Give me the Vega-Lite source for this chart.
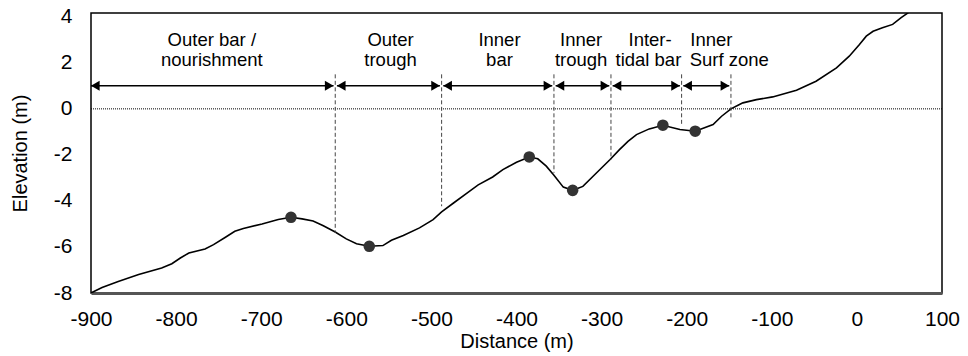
{
  "$schema": "https://vega.github.io/schema/vega-lite/v6.json",
  "autosize": "none",
  "width": 851,
  "height": 280,
  "padding": {"left": 91, "top": 13, "right": 26, "bottom": 63},
  "background": "white",
  "config": {
    "font": "Liberation Sans",
    "view": {"stroke": "black", "strokeWidth": 1.5},
    "axis": {"labelColor": "black", "titleColor": "black", "titleFontWeight": "normal", "grid": false, "ticks": false}
  },
  "datasets": {
    "profile": [
      {"x": -900, "y": -8.0}, {"x": -887, "y": -7.76}, {"x": -868, "y": -7.5}, {"x": -844, "y": -7.2},
      {"x": -817, "y": -6.91}, {"x": -805, "y": -6.73}, {"x": -795, "y": -6.48}, {"x": -785, "y": -6.26},
      {"x": -766, "y": -6.09}, {"x": -756, "y": -5.9}, {"x": -742, "y": -5.58}, {"x": -731, "y": -5.32},
      {"x": -721, "y": -5.2}, {"x": -699, "y": -5.0}, {"x": -680, "y": -4.81}, {"x": -665, "y": -4.71},
      {"x": -652, "y": -4.78}, {"x": -639, "y": -4.87}, {"x": -627, "y": -5.08}, {"x": -613, "y": -5.35},
      {"x": -600, "y": -5.65}, {"x": -588, "y": -5.86}, {"x": -573, "y": -5.97}, {"x": -557, "y": -5.94},
      {"x": -547, "y": -5.71}, {"x": -533, "y": -5.5}, {"x": -514, "y": -5.17}, {"x": -498, "y": -4.81},
      {"x": -488, "y": -4.48}, {"x": -474, "y": -4.09}, {"x": -459, "y": -3.68}, {"x": -445, "y": -3.3},
      {"x": -428, "y": -2.96}, {"x": -416, "y": -2.64}, {"x": -400, "y": -2.32}, {"x": -385, "y": -2.09},
      {"x": -375, "y": -2.17}, {"x": -365, "y": -2.49}, {"x": -356, "y": -2.88}, {"x": -345, "y": -3.4},
      {"x": -334, "y": -3.54}, {"x": -322, "y": -3.37}, {"x": -310, "y": -2.93}, {"x": -290, "y": -2.2},
      {"x": -279, "y": -1.77}, {"x": -269, "y": -1.41}, {"x": -259, "y": -1.12}, {"x": -244, "y": -0.87},
      {"x": -228, "y": -0.71}, {"x": -208, "y": -0.9}, {"x": -190, "y": -0.97}, {"x": -169, "y": -0.68},
      {"x": -159, "y": -0.32}, {"x": -148, "y": 0.0}, {"x": -138, "y": 0.19}, {"x": -134, "y": 0.26},
      {"x": -118, "y": 0.4}, {"x": -99, "y": 0.52}, {"x": -71, "y": 0.81}, {"x": -48, "y": 1.2},
      {"x": -24, "y": 1.78}, {"x": -9, "y": 2.29}, {"x": 3, "y": 2.8}, {"x": 11, "y": 3.16},
      {"x": 19, "y": 3.37}, {"x": 30, "y": 3.52}, {"x": 42, "y": 3.67}, {"x": 52, "y": 3.96},
      {"x": 60, "y": 4.17}, {"x": 70, "y": 4.6}
    ],
    "dots": [
      {"x": -665, "y": -4.71}, {"x": -573, "y": -5.97}, {"x": -385, "y": -2.09},
      {"x": -334, "y": -3.54}, {"x": -228, "y": -0.71}, {"x": -190, "y": -0.97}
    ],
    "bounds": [
      {"x": -613, "y": 1.5, "y2": -5.39}, {"x": -488, "y": 1.5, "y2": -4.23},
      {"x": -356, "y": 1.5, "y2": -2.78}, {"x": -289, "y": 1.5, "y2": -2.2},
      {"x": -206, "y": 1.5, "y2": -0.76}, {"x": -148, "y": 1.5, "y2": -0.39}
    ],
    "arrows": [
      {"x": -900, "x2": -615, "y": 1.0}, {"x": -611, "x2": -490, "y": 1.0},
      {"x": -486, "x2": -358, "y": 1.0}, {"x": -354, "x2": -291, "y": 1.0},
      {"x": -287, "x2": -208, "y": 1.0}, {"x": -204, "x2": -150, "y": 1.0}
    ],
    "labels": [
      {"t": "Outer bar /", "x": -758, "y": 2.75}, {"t": "nourishment", "x": -758, "y": 1.86},
      {"t": "Outer", "x": -548, "y": 2.75}, {"t": "trough", "x": -548, "y": 1.86},
      {"t": "Inner", "x": -420, "y": 2.75}, {"t": "bar", "x": -420, "y": 1.86},
      {"t": "Inner", "x": -324, "y": 2.75}, {"t": "trough", "x": -324, "y": 1.86},
      {"t": "Inter-", "x": -243, "y": 2.75}, {"t": "tidal bar", "x": -245, "y": 1.86},
      {"t": "Inner", "x": -171, "y": 2.75}, {"t": "Surf zone", "x": -150, "y": 1.86}
    ]
  },
  "layer": [
    {
      "data": {"name": "profile"},
      "mark": {"type": "line", "color": "black", "strokeWidth": 1.6, "clip": true},
      "encoding": {
        "x": {"field": "x", "type": "quantitative",
          "scale": {"domain": [-900, 100], "nice": false, "zero": false},
          "axis": {"title": "Distance (m)", "values": [-900, -800, -700, -600, -500, -400, -300, -200, -100, 0, 100],
            "labelExpr": "'' + datum.value",
            "labelFontSize": 21, "labelFlush": false, "labelOverlap": false, "labelBound": false, "labelPadding": 15,
            "domain": true, "domainColor": "#555555", "domainWidth": 3,
            "titleFontSize": 20, "titlePadding": 2}},
        "y": {"field": "y", "type": "quantitative",
          "scale": {"domain": [-8, 4.165], "nice": false, "zero": false},
          "axis": {"title": "Elevation (m)", "values": [-8, -6, -4, -2, 0, 2, 4],
            "labelExpr": "'' + datum.value",
            "labelFontSize": 21, "labelPadding": 19, "domain": false, "labelOverlap": false, "labelBound": false, "labelFlush": false,
            "titleFontSize": 20, "titlePadding": 23}}
      }
    },
    {
      "data": {"values": [{"y": 0}]},
      "mark": {"type": "rule", "color": "black", "strokeWidth": 1, "strokeDash": [1, 1]},
      "encoding": {"y": {"field": "y", "type": "quantitative"}}
    },
    {
      "data": {"name": "bounds"},
      "mark": {"type": "rule", "color": "#444444", "strokeWidth": 1, "strokeDash": [4, 2.5]},
      "encoding": {
        "x": {"field": "x", "type": "quantitative"},
        "y": {"field": "y", "type": "quantitative"},
        "y2": {"field": "y2"}
      }
    },
    {
      "data": {"name": "arrows"},
      "mark": {"type": "rule", "color": "black", "strokeWidth": 1.5},
      "encoding": {
        "x": {"field": "x", "type": "quantitative"},
        "x2": {"field": "x2"},
        "y": {"field": "y", "type": "quantitative"}
      }
    },
    {
      "data": {"name": "arrows"},
      "mark": {"type": "point", "shape": "triangle-left", "filled": true, "color": "black", "opacity": 1, "size": 100, "xOffset": 4.3},
      "encoding": {
        "x": {"field": "x", "type": "quantitative"},
        "y": {"field": "y", "type": "quantitative"}
      }
    },
    {
      "data": {"name": "arrows"},
      "mark": {"type": "point", "shape": "triangle-right", "filled": true, "color": "black", "opacity": 1, "size": 100, "xOffset": -4.3},
      "encoding": {
        "x": {"field": "x2", "type": "quantitative"},
        "y": {"field": "y", "type": "quantitative"}
      }
    },
    {
      "data": {"name": "dots"},
      "mark": {"type": "circle", "color": "#333333", "opacity": 1, "size": 135},
      "encoding": {
        "x": {"field": "x", "type": "quantitative"},
        "y": {"field": "y", "type": "quantitative"}
      }
    },
    {
      "data": {"name": "labels"},
      "mark": {"type": "text", "fontSize": 18.5, "color": "black", "align": "center", "baseline": "alphabetic"},
      "encoding": {
        "x": {"field": "x", "type": "quantitative"},
        "y": {"field": "y", "type": "quantitative"},
        "text": {"field": "t"}
      }
    }
  ]
}
